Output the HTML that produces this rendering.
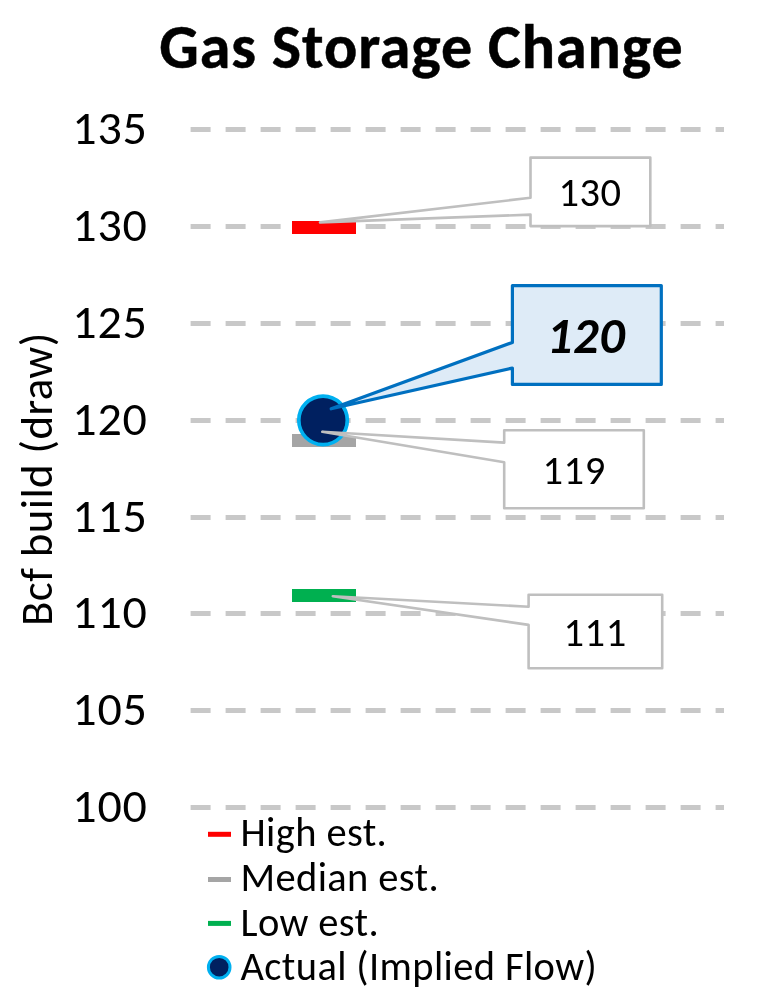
<!DOCTYPE html><html><head><meta charset="utf-8"><title>Gas Storage Change</title>
<style>html,body{margin:0;padding:0;background:#fff;width:776px;height:990px;overflow:hidden}svg{display:block;will-change:transform}text{font-family:"Carlito", "Liberation Sans", sans-serif;fill:#000}</style></head><body>
<svg width="776" height="990" viewBox="0 0 776 990">
<rect width="776" height="990" fill="#fff"/>
<text x="159.2" y="68.1" font-size="62" font-weight="bold" stroke="#000" stroke-width="0.5" letter-spacing="0.94" textLength="524.47" lengthAdjust="spacingAndGlyphs">Gas Storage Change</text>
<line x1="190.6" y1="129.45" x2="724.0" y2="129.45" stroke="#C8C8C8" stroke-width="5" stroke-dasharray="20 15"/>
<text x="72.3" y="143.65" font-size="48" letter-spacing="0.8" textLength="75.39" lengthAdjust="spacingAndGlyphs">135</text>
<line x1="190.6" y1="226.40" x2="724.0" y2="226.40" stroke="#C8C8C8" stroke-width="5" stroke-dasharray="20 15"/>
<text x="72.3" y="240.60" font-size="48" letter-spacing="0.8" textLength="75.39" lengthAdjust="spacingAndGlyphs">130</text>
<line x1="190.6" y1="323.45" x2="724.0" y2="323.45" stroke="#C8C8C8" stroke-width="5" stroke-dasharray="20 15"/>
<text x="72.3" y="337.65" font-size="48" letter-spacing="0.8" textLength="75.39" lengthAdjust="spacingAndGlyphs">125</text>
<line x1="190.6" y1="420.55" x2="724.0" y2="420.55" stroke="#C8C8C8" stroke-width="5" stroke-dasharray="20 15"/>
<text x="72.3" y="434.75" font-size="48" letter-spacing="0.8" textLength="75.39" lengthAdjust="spacingAndGlyphs">120</text>
<line x1="190.6" y1="517.55" x2="724.0" y2="517.55" stroke="#C8C8C8" stroke-width="5" stroke-dasharray="20 15"/>
<text x="72.3" y="531.75" font-size="48" letter-spacing="0.8" textLength="75.39" lengthAdjust="spacingAndGlyphs">115</text>
<line x1="190.6" y1="613.50" x2="724.0" y2="613.50" stroke="#C8C8C8" stroke-width="5" stroke-dasharray="20 15"/>
<text x="72.3" y="627.70" font-size="48" letter-spacing="0.8" textLength="75.39" lengthAdjust="spacingAndGlyphs">110</text>
<line x1="190.6" y1="710.50" x2="724.0" y2="710.50" stroke="#C8C8C8" stroke-width="5" stroke-dasharray="20 15"/>
<text x="72.3" y="724.70" font-size="48" letter-spacing="0.8" textLength="75.39" lengthAdjust="spacingAndGlyphs">105</text>
<line x1="190.6" y1="807.40" x2="724.0" y2="807.40" stroke="#C8C8C8" stroke-width="5" stroke-dasharray="20 15"/>
<text x="72.3" y="821.60" font-size="48" letter-spacing="0.8" textLength="75.39" lengthAdjust="spacingAndGlyphs">100</text>
<text transform="translate(51.6 626.0) rotate(-90)" font-size="44.8" letter-spacing="0.42" textLength="293.70" lengthAdjust="spacingAndGlyphs">Bcf build (draw)</text>
<rect x="292" y="221" width="64" height="13" fill="#FF0000"/>
<rect x="292" y="434" width="64" height="13" fill="#A5A5A5"/>
<rect x="292" y="589" width="64" height="13" fill="#00B050"/>
<circle cx="323.05" cy="420.3" r="24.25" fill="#002060" stroke="#00B0F0" stroke-width="3.7"/>
<path d="M530.5 157.6 H650.3 V226.1 H530.5 V214.6 L320.0 222.4 L530.5 197.8 Z" fill="#fff" stroke="#BFBFBF" stroke-width="2.6" stroke-linejoin="round"/>
<path d="M512.4 285.6 H661.3 V384.4 H512.4 V368.0 L331.2 408.8 L512.4 342.4 Z" fill="#DEEBF7" stroke="#0070C0" stroke-width="3.2" stroke-linejoin="round"/>
<path d="M504.2 430.3 H643.8 V508.3 H504.2 V462.3 L322.3 431.8 L504.2 442.6 Z" fill="#fff" stroke="#BFBFBF" stroke-width="2.6" stroke-linejoin="round"/>
<path d="M528.6 594.7 H662.2 V668.3 H528.6 V624.9 L332.8 596.2 L528.6 606.7 Z" fill="#fff" stroke="#BFBFBF" stroke-width="2.6" stroke-linejoin="round"/>
<text x="558.4" y="206" font-size="40.5" letter-spacing="0.55" textLength="63.23" lengthAdjust="spacingAndGlyphs">130</text>
<text x="546.8" y="352.5" font-size="50.5" font-weight="bold" font-style="italic" letter-spacing="0.6" textLength="78.59" lengthAdjust="spacingAndGlyphs">120</text>
<text x="542.4" y="483.5" font-size="40.5" letter-spacing="0.6" textLength="63.39" lengthAdjust="spacingAndGlyphs">119</text>
<text x="563.6" y="645.7" font-size="40.5" letter-spacing="0.5" textLength="63.09" lengthAdjust="spacingAndGlyphs">111</text>
<rect x="208" y="831.8" width="23" height="5" fill="#FF0000"/>
<rect x="208" y="877.0" width="23" height="5" fill="#A5A5A5"/>
<rect x="208" y="920.9" width="23" height="5" fill="#00B050"/>
<circle cx="219.2" cy="967.2" r="10.8" fill="#002060" stroke="#00B0F0" stroke-width="3"/>
<text x="240.5" y="846.2" font-size="40.5" letter-spacing="0.37" textLength="146.69" lengthAdjust="spacingAndGlyphs">High est.</text>
<text x="240.5" y="891.4" font-size="40.5" letter-spacing="0.37" textLength="198.59" lengthAdjust="spacingAndGlyphs">Median est.</text>
<text x="240.5" y="935.5" font-size="40.5" letter-spacing="0.37" textLength="138.62" lengthAdjust="spacingAndGlyphs">Low est.</text>
<text x="240.5" y="979.7" font-size="40.5" letter-spacing="0.37" textLength="356.66" lengthAdjust="spacingAndGlyphs">Actual (Implied Flow)</text>
</svg></body></html>
